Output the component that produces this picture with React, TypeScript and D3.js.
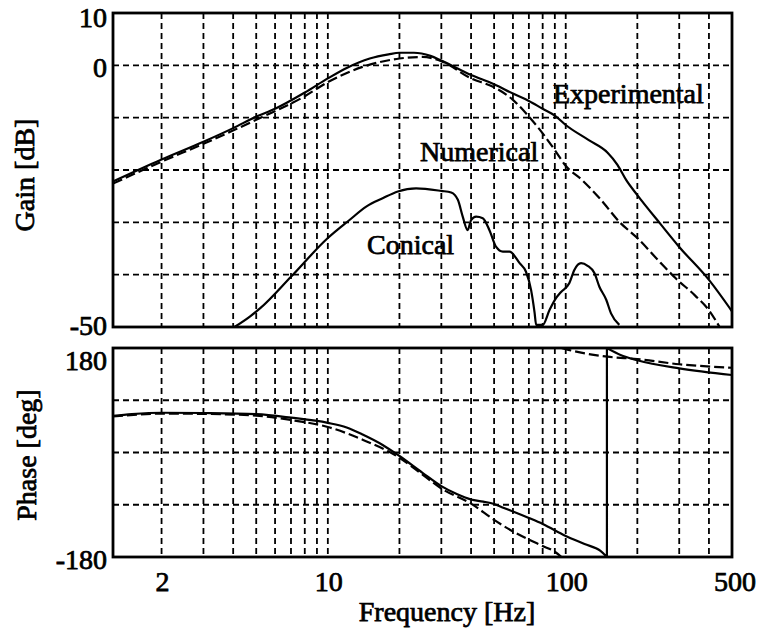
import React from 'react';
import * as d3 from 'd3';

// ---------- data ----------
const xTickValues = [2, 10, 100, 500];
const xTickLabels = ['2', '10', '100', '500'];
const xGridValues = [2, 3, 4, 5, 6, 7, 8, 9, 10, 20, 30, 40, 50, 60, 70, 80, 90, 100, 200, 300, 400];

const gainTickValues = [10, 0, -50];
const gainTickLabels = ['10', '0', '-50'];
const gainGridValues = [0, -10, -20, -30, -40];

const phaseTickValues = [180, -180];
const phaseTickLabels = ['180', '-180'];
const phaseGridValues = [90, 0, -90];

const gainExpFreq = [1.25, 2, 3, 4, 5, 6, 8, 10, 12, 15, 18, 20, 23, 27, 30, 40, 50, 60, 70, 80, 90, 100, 125, 150, 165, 180, 200, 250, 300, 400, 500];
const gainExpDb = [-22.2, -18, -14.6, -12, -9.8, -8.3, -5.2, -2.5, -0.5, 1.3, 2.1, 2.4, 2.4, 1.8, 0.9, -1.85, -3.6, -5.4, -6.8, -8.3, -9.6, -11.4, -14.3, -16.7, -19, -22, -24.8, -30.3, -34.7, -41, -47];

const gainNumFreq = [1.25, 2, 3, 5, 8, 10, 14, 20, 25, 30, 40, 50, 60, 70, 80, 90, 100, 117, 140, 168, 200, 250, 290, 350, 400, 450];
const gainNumDb = [-22.6, -18.4, -15, -10.4, -5.9, -3.2, -0.3, 1.3, 1.6, 0.8, -2.5, -4.2, -6.6, -9.8, -13, -16.2, -19.2, -21.9, -25.6, -29.9, -33, -37.7, -40.7, -44, -46.8, -50.5];

const gainConFreq = [4.05, 4.7, 5.2, 7, 10, 12.3, 14.5, 17, 19.7, 23.5, 30, 33, 35.2, 36.9, 38.7, 40, 42, 44.8, 47.8, 51, 54.4, 58, 64, 68, 71.5, 74, 75.1, 80, 85.4, 91, 95.6, 103.6, 108.7, 116, 123.6, 132, 138.5, 148, 155, 168];
const gainConDb = [-50, -48, -46.4, -40.4, -33, -29.6, -27, -25.4, -24.1, -23.5, -24, -24.3, -25.7, -28.9, -31.5, -29.6, -28.9, -29.2, -31.5, -34.7, -35.6, -35.6, -37.8, -39.4, -42.9, -47.3, -49.6, -49.6, -46.8, -44.5, -43.3, -41.6, -39.1, -37.8, -38.3, -39.7, -42.3, -44.8, -47.4, -49.6];

// experimental phase: jumps from -180 to +180 at ~149 Hz (drawn with a vertical line)
const phaseExpFreq = [1.25, 1.5, 2, 3, 5, 7, 10, 12, 14, 17, 20, 25, 30, 35, 40, 45, 50, 55, 60, 70, 80, 100, 120, 140, 149, 149, 170, 200, 300, 500];
const phaseExpDeg = [63, 66, 68.5, 68, 66, 60, 51, 43, 31, 13, -6, -35, -58, -72, -81, -84.5, -88.7, -95.6, -101.6, -112.8, -123.1, -143.8, -157.6, -169.6, -180, 180, 168, 159, 145, 133.5];

// numerical phase: wraps (without a connecting line) at ~96 Hz
const phaseNumFreqLow = [1.25, 2, 3, 5, 7, 10, 14, 20, 25, 30, 40, 50, 60, 70, 80, 90, 96];
const phaseNumDegLow = [62, 67, 66.5, 63.5, 56, 44, 22, -9, -38, -62, -88, -116, -136, -150, -161, -171, -180];
const phaseNumFreqHigh = [96, 100, 150, 200, 300, 500];
const phaseNumDegHigh = [180, 178, 165, 161, 152, 146];

// ---------- layout ----------
const W = 761;
const H = 631;
const L = 113;
const R = 732;
const gainTop = 13;
const gainBottom = 327;
const phaseTop = 348;
const phaseBottom = 557;
const FONT = '"Liberation Serif", "Times New Roman", serif';
const FS = 28;

const x = d3.scaleLog().domain([1.25, 500]).range([L, R]);
const yGain = d3.scaleLinear().domain([-50, 10]).range([gainBottom, gainTop]);
const yPhase = d3.scaleLinear().domain([-180, 180]).range([phaseBottom, phaseTop]);

function zip(a: number[], b: number[]): [number, number][] {
  return a.map((v, i) => [v, b[i]]);
}

function makePath(pts: [number, number][], y: d3.ScaleLinear<number, number>) {
  // split where the frequency repeats (vertical jump), join with straight line
  const runs: [number, number][][] = [];
  let cur: [number, number][] = [];
  pts.forEach((p, i) => {
    if (i > 0 && p[0] === pts[i - 1][0]) {
      runs.push(cur);
      cur = [];
    }
    cur.push(p);
  });
  runs.push(cur);
  const gen = d3
    .line<[number, number]>()
    .x((d) => x(d[0]))
    .y((d) => y(d[1]))
    .curve(d3.curveMonotoneX);
  return runs
    .map((r, i) => {
      const s = gen(r) || '';
      return i === 0 ? s : s.replace(/^M/, 'L');
    })
    .join('');
}

const textStyle: React.CSSProperties = {
  fontFamily: FONT,
  fontSize: FS,
  fill: '#000',
  stroke: '#000',
  strokeWidth: 0.75,
};

function Grid({ top, bottom, yScale, hValues }: { top: number; bottom: number; yScale: d3.ScaleLinear<number, number>; hValues: number[] }) {
  return (
    <g stroke="#000" strokeWidth={1.8} strokeDasharray="6,4" fill="none">
      {xGridValues.map((v) => (
        <line key={'v' + v} x1={x(v)} x2={x(v)} y1={top} y2={bottom} />
      ))}
      {hValues.map((v) => (
        <line key={'h' + v} x1={L} x2={R} y1={yScale(v)} y2={yScale(v)} />
      ))}
    </g>
  );
}

export default function App() {
  const gainExp = makePath(zip(gainExpFreq, gainExpDb), yGain);
  const gainNum = makePath(zip(gainNumFreq, gainNumDb), yGain);
  const gainCon = makePath(zip(gainConFreq, gainConDb), yGain);
  const phaseExp = makePath(zip(phaseExpFreq, phaseExpDeg), yPhase);
  const phaseNumLow = makePath(zip(phaseNumFreqLow, phaseNumDegLow), yPhase);
  const phaseNumHigh = makePath(zip(phaseNumFreqHigh, phaseNumDegHigh), yPhase);

  return (
    <svg
      width={W}
      height={H}
      viewBox={`0 0 ${W} ${H}`}
      style={{ position: 'absolute', left: 0, top: 0, background: '#fff' }}
    >
      <defs>
        <clipPath id="clipGain">
          <rect x={L} y={gainTop} width={R - L} height={gainBottom - gainTop} />
        </clipPath>
        <clipPath id="clipPhase">
          <rect x={L} y={phaseTop} width={R - L} height={phaseBottom - phaseTop} />
        </clipPath>
      </defs>
      <rect x={0} y={0} width={W} height={H} fill="#fff" />

      {/* gain panel */}
      <Grid top={gainTop} bottom={gainBottom} yScale={yGain} hValues={gainGridValues} />
      <g clipPath="url(#clipGain)" fill="none" stroke="#000" strokeWidth={2.2}>
        <path d={gainExp} />
        <path d={gainNum} strokeDasharray="10,4" />
        <path d={gainCon} />
      </g>
      <rect x={L} y={gainTop} width={R - L} height={gainBottom - gainTop} fill="none" stroke="#000" strokeWidth={2.8} />

      {/* phase panel */}
      <Grid top={phaseTop} bottom={phaseBottom} yScale={yPhase} hValues={phaseGridValues} />
      <g clipPath="url(#clipPhase)" fill="none" stroke="#000" strokeWidth={2.2}>
        <path d={phaseExp} />
        <path d={phaseNumLow} strokeDasharray="10,4" />
        <path d={phaseNumHigh} strokeDasharray="10,4" />
      </g>
      <rect x={L} y={phaseTop} width={R - L} height={phaseBottom - phaseTop} fill="none" stroke="#000" strokeWidth={2.8} />

      {/* y tick labels */}
      {gainTickValues.map((v, i) => (
        <text
          key={'gt' + v}
          x={L - 6}
          y={Math.max(gainTop + 14, Math.min(gainBottom + 8, yGain(v) + 12))}
          textAnchor="end"
          style={textStyle}
        >
          {gainTickLabels[i]}
        </text>
      ))}
      {phaseTickValues.map((v, i) => (
        <text
          key={'pt' + v}
          x={L - 6}
          y={Math.max(phaseTop + 22, Math.min(phaseBottom + 13, yPhase(v) + 12))}
          textAnchor="end"
          style={textStyle}
        >
          {phaseTickLabels[i]}
        </text>
      ))}

      {/* x tick labels */}
      {xTickValues.map((v, i) => (
        <text key={'xt' + v} x={x(v) + (v === 500 ? 3 : 1)} y={591} textAnchor="middle" style={textStyle}>
          {xTickLabels[i]}
        </text>
      ))}

      {/* axis titles */}
      <text x={447} y={621} textAnchor="middle" style={textStyle}>
        Frequency [Hz]
      </text>
      <text transform={`translate(34,175) rotate(-90)`} textAnchor="middle" style={textStyle}>
        Gain [dB]
      </text>
      <text transform={`translate(36,455) rotate(-90)`} textAnchor="middle" style={textStyle}>
        Phase [deg]
      </text>

      {/* curve annotations */}
      <text x={553} y={103} style={textStyle}>
        Experimental
      </text>
      <text x={420} y={161} style={textStyle}>
        Numerical
      </text>
      <text x={367} y={254} style={textStyle}>
        Conical
      </text>
    </svg>
  );
}
